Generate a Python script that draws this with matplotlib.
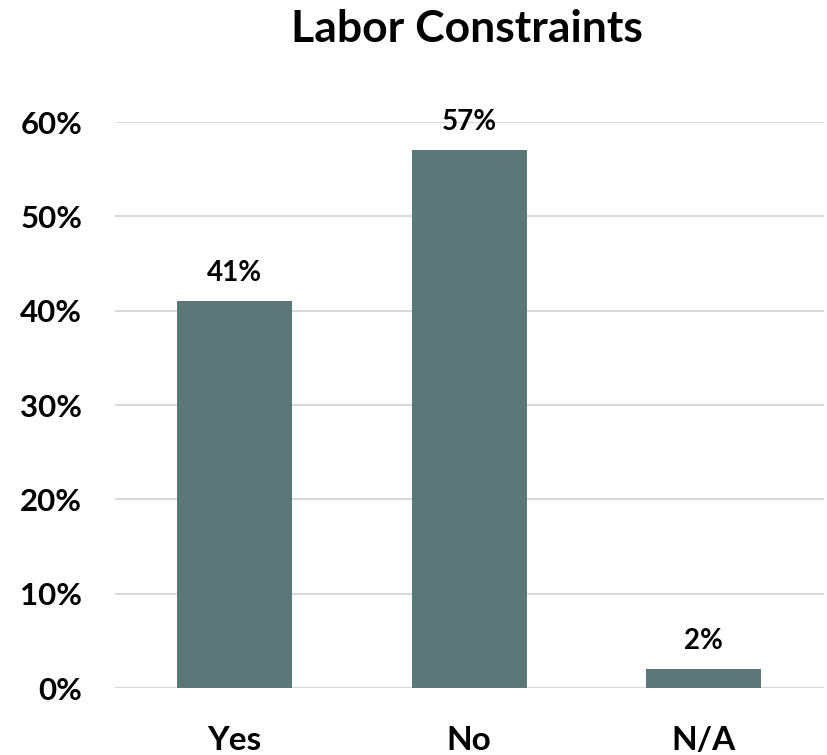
import matplotlib
matplotlib.use("Agg")
import matplotlib.pyplot as plt

categories = ["Yes", "No", "N/A"]
values = [0.41, 0.57, 0.02]
yticks = [0, 0.1, 0.2, 0.3, 0.4, 0.5, 0.6]
title = "Labor Constraints"

plt.rcParams['font.family'] = ['Lato', 'DejaVu Sans']

fig = plt.figure(figsize=(8.27, 7.55), dpi=100)
ax = fig.add_axes([0.139, 0.0887, 0.857, 0.7497])
x = range(len(categories))
bars = ax.bar(x, values, width=0.49, color="#5B7778", zorder=3)
ax.set_xlim(-0.508, 2.51)
ax.set_ylim(0, 0.6)
ax.set_yticks(yticks)
ax.set_yticklabels([f"{int(round(t*100))}%" for t in yticks], fontsize=22.5, fontweight='bold')
ax.set_xticks(list(x))
ax.set_xticklabels(categories, fontsize=24, fontweight='bold')
ax.tick_params(axis='both', length=0)
ax.tick_params(axis='y', pad=23.5)
ax.tick_params(axis='x', pad=44.6)
for lab in ax.get_xticklabels():
    lab.set_verticalalignment('baseline')
for s in ax.spines.values():
    s.set_visible(False)
ax.grid(axis='y', color="#D9D9D9", linewidth=1.5, zorder=0)
ax.axhline(0, color="#D9D9D9", linewidth=1.5, zorder=2)
for xi, v in zip(x, values):
    ax.annotate(f"{int(round(v*100))}%", (xi, v), xytext=(0, 14.4), textcoords='offset points',
                ha='center', va='baseline', fontsize=20, fontweight='bold')
fig.text(0.565, 1 - 42/755, title, ha='center', va='baseline', fontsize=32, fontweight='bold')
fig.savefig("out.png", dpi=100)
